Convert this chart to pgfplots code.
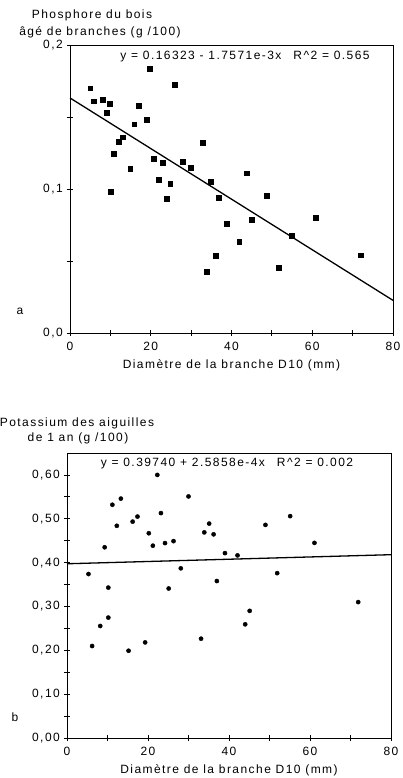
\documentclass[border=0pt]{standalone}
\usepackage{fontspec}
\setmainfont{Liberation Sans}[LetterSpace=12]
\usepackage{pgfplots}
\pgfplotsset{compat=1.18}

\pgfplotsset{
  scatterbox/.style={
    scale only axis,
    anchor=south west,
    xmin=0, xmax=80,
    xtick={0,20,40,60,80},
    minor x tick num=1,
    minor y tick num=1,
    tick align=center,
    tick pos=left,
    major tick length=6pt,
    minor tick length=6pt,
    axis line style={line width=1pt},
    every tick/.style={black, line width=0.8pt},
    tick label style={font=\fontsize{12}{14}\selectfont},
    xticklabel style={yshift=-1.5pt},
    xlabel style={font=\fontsize{12}{14}\selectfont, yshift=-1pt},
    xlabel={Diamètre de la branche D10 (mm)},
    /pgf/number format/assume math mode=true,
    clip=false,
  },
}

\begin{document}
\begin{tikzpicture}
\useasboundingbox (0,0) rectangle (403pt,-778pt);
\fontsize{12}{14}\selectfont

% a: phosphore
\begin{axis}[scatterbox,
  at={(70pt,-333pt)}, width=323pt, height=288pt,
  ymin=0, ymax=0.2,
  ytick={0,0.1,0.2},
  yticklabel style={/pgf/number format/.cd, fixed, zerofill, precision=1, use comma},
]
\addplot[only marks, mark=square*, mark size=2.4pt, black] coordinates {
  (5,0.170) (5.9,0.161) (8.1,0.162) (9.9,0.1595) (9.1,0.153) (19.8,0.1838)
  (26.0,0.1727) (17.0,0.158) (19.0,0.148) (15.9,0.145) (12.0,0.133) (13.0,0.136)
  (10.9,0.1245) (14.9,0.114) (20.8,0.121) (22.9,0.118) (21.9,0.1065) (24.8,0.1037)
  (28.0,0.119) (29.9,0.115) (32.9,0.132) (34.8,0.105) (43.8,0.111) (10.0,0.098)
  (23.9,0.093) (36.9,0.094) (48.8,0.0956) (38.8,0.076) (45.0,0.0787) (60.8,0.080)
  (55.0,0.0678) (41.9,0.0634) (36.0,0.0535) (71.9,0.054) (33.8,0.0424) (51.7,0.0453)
};
\addplot[black, line width=1.3pt] coordinates {(0,0.16323) (80,0.02267)};
\end{axis}

% b: potassium
\begin{axis}[scatterbox,
  at={(67pt,-738pt)}, width=324pt, height=285pt,
  ymin=0, ymax=0.65,
  ytick={0,0.1,0.2,0.3,0.4,0.5,0.6},
  yticklabel style={/pgf/number format/.cd, fixed, zerofill, precision=2, use comma},
]
\addplot[only marks, mark=*, mark size=2.1pt, black] coordinates {
  (22.3,0.600) (11.2,0.532) (13.3,0.546) (30.0,0.551) (23.2,0.513) (12.3,0.484)
  (16.2,0.4935) (17.4,0.505) (35.1,0.489) (55.1,0.506) (49.0,0.486) (20.2,0.467)
  (33.9,0.469) (36.2,0.4645) (9.3,0.435) (21.2,0.4386) (24.2,0.4446) (26.3,0.449)
  (61.1,0.445) (39.0,0.4217) (42.1,0.4165) (28.1,0.387) (5.3,0.374) (10.2,0.343)
  (25.1,0.341) (37.0,0.358) (51.9,0.376) (71.9,0.310) (10.2,0.2746) (8.2,0.2555)
  (45.1,0.290) (44.0,0.2593) (6.2,0.2098) (15.2,0.199) (19.3,0.218) (33.1,0.2265)
};
\addplot[black, line width=1.3pt] coordinates {(0,0.3974) (80,0.41809)};
\end{axis}

% texts
\node at (92pt,-15pt) {Phosphore du bois};
\node at (100pt,-32pt) {âgé de branches (g /100)};
\node at (245pt,-57pt) {y = 0.16323 - 1.7571e-3x\quad R\^{}2 = 0.565};
\node at (20pt,-311pt) {a};

\node at (77pt,-423pt) {Potassium des aiguilles};
\node at (78pt,-438pt) {de 1 an (g /100)};
\node at (227pt,-464pt) {y = 0.39740 + 2.5858e-4x\quad R\^{}2 = 0.002};
\node at (15pt,-717pt) {b};
\end{tikzpicture}
\end{document}
